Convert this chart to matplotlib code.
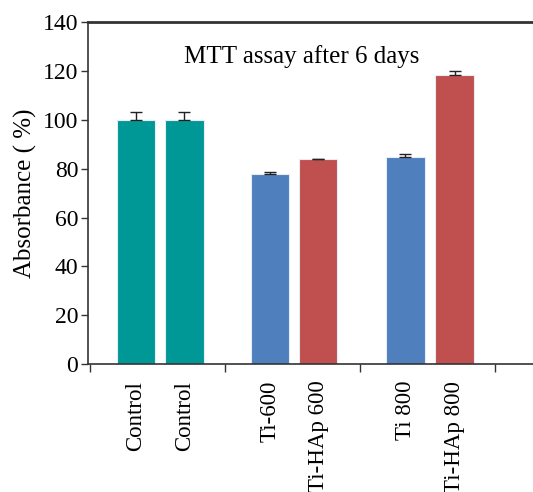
import matplotlib
matplotlib.use("Agg")
import matplotlib.pyplot as plt

categories = ["Control", "Control", "Ti-600", "Ti-HAp 600", "Ti 800", "Ti-HAp 800"]
values = [100.0, 100.0, 77.8, 83.8, 84.6, 118.2]
errors = [3.3, 3.3, 1.0, 0.2, 1.5, 2.0]
positions = [0.34, 0.70, 1.335, 1.69, 2.335, 2.70]
colors = ["#009896", "#009896", "#4f7fbd", "#c0504f", "#4f7fbd", "#c0504f"]
title_text = "MTT assay after 6 days"
y_ticks = [0, 20, 40, 60, 80, 100, 120, 140]

plt.rcParams['font.family'] = ['Liberation Serif', 'DejaVu Serif']

fig = plt.figure(figsize=(5.33, 4.92), dpi=100)
ax = fig.add_axes([0.165, 0.260, 0.835, 0.695])

ax.bar(positions, values, width=0.285, color=colors, edgecolor="#e4ecf5", linewidth=0.8, zorder=2)
ax.errorbar(positions, values, yerr=[[0]*len(errors), errors], fmt='none',
            ecolor='#222222', elinewidth=1.0, capsize=4.5, capthick=1.0, zorder=3)

ax.set_ylim(0, 140)
ax.set_xlim(-0.015, 3.281)
ax.set_yticks(y_ticks)
ax.set_yticklabels([str(t) for t in y_ticks], fontsize=17)
ax.set_xticks([0, 1, 2, 3])
ax.set_xticklabels([])
ax.set_xticks(positions, minor=True)
ax.set_xticklabels(categories, minor=True, rotation=90, fontsize=16.5)
ax.tick_params(axis='x', which='minor', length=0, pad=12)
ax.tick_params(axis='x', which='major', length=6, width=1.0, direction='out', color='#333333')
ax.tick_params(axis='y', length=5, width=1.0, direction='out', color='#333333', pad=2)

ax.spines['right'].set_visible(False)
ax.spines['top'].set_linewidth(2.0)
ax.spines['top'].set_color('#333333')
ax.spines['left'].set_linewidth(1.2)
ax.spines['left'].set_color('#333333')
ax.spines['bottom'].set_linewidth(1.2)
ax.spines['bottom'].set_color('#333333')

ax.text(1.57, 126, title_text, ha='center', va='center', fontsize=18)
ax.set_ylabel("Absorbance ( %)", fontsize=18, labelpad=4)

fig.savefig("out.png", dpi=100)
